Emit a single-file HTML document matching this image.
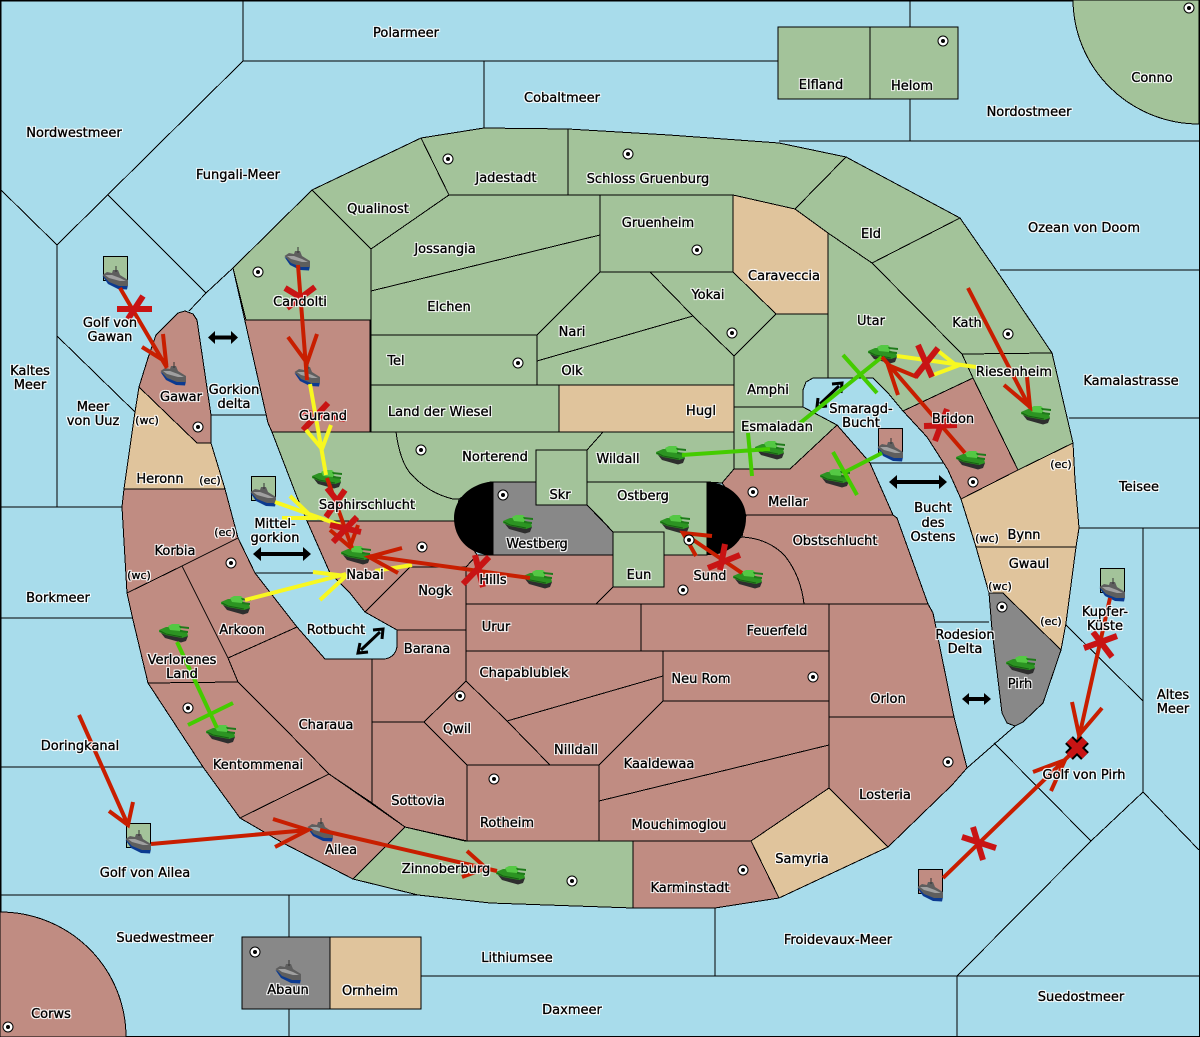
<!DOCTYPE html>
<html><head><meta charset="utf-8"><style>
html,body{margin:0;padding:0;background:#a8dceb}
svg{display:block}
.l polygon,.l path{stroke:#000;stroke-width:1;stroke-linejoin:miter}
.g{fill:#a3c39a}.b{fill:#c08c82}.t{fill:#e0c49c}.y{fill:#888}
.s{stroke:#000;stroke-width:1;fill:none}
text{font-family:"DejaVu Sans","Liberation Sans",sans-serif;font-size:13px;text-anchor:middle;fill:#000;stroke:#000;stroke-width:.35;font-weight:400}
.sm{font-size:11px}
.r{stroke:#c81e00;stroke-width:4;fill:none}
.x{stroke:#c81414;stroke-width:6;fill:none}
.yl{stroke:#f8f820;stroke-width:4;fill:none}
.gr{stroke:#44cc00;stroke-width:4;fill:none}
.k{stroke:#000;stroke-width:3;fill:none}
</style></head><body>
<svg xmlns="http://www.w3.org/2000/svg" width="1200" height="1037" viewBox="0 0 1200 1037">
<defs>
<filter id="halo" filterUnits="userSpaceOnUse" x="0" y="0" width="1200" height="1037" color-interpolation-filters="sRGB">
<feMorphology in="SourceAlpha" operator="dilate" radius="1" result="d"/>
<feFlood flood-color="#fff" flood-opacity=".92"/>
<feComposite in2="d" operator="in" result="w"/>
<feMerge><feMergeNode in="w"/><feMergeNode in="SourceGraphic"/></feMerge>
</filter>
<symbol id="tank" overflow="visible" viewBox="-15 -9 30 18" width="30" height="18">
<path d="M-13 0L-9 5L7 9.5L12 8L14 3Z" fill="#2e2e2e"/>
<path d="M-15 -3L-8 -6L0 -6L13 -1L14 3L8 5L-8 2L-15 -1Z" fill="#2c9422"/>
<path d="M-6 -7L-2 -9L5 -9L8 -6L6 -2L-4 -3Z" fill="#54c844"/>
<path d="M5 -7L15 -6L15 -4L6 -5Z" fill="#1e7a1a"/>
<path d="M6 -3L14 -2L14 0L6 -1Z" fill="#1e7a1a"/>
<path d="M-14 -2L-8 1L8 4" stroke="#176012" fill="none"/>
</symbol>
<symbol id="fleet" overflow="visible" viewBox="-12 -11 25 22" width="25" height="22">
<path d="M-12.500 -2L-7 6L3 11L12 11.500L13 7L0 4Z" fill="#0b3a90"/>
<path d="M-12.500 -3L-8 -6L-3 -5L-2 -8L3 -8L5 -3L13 2L13 8L4 8L-6 4Z" fill="#5e5e5e"/>
<path d="M-10 -3L-3 -3L5 0L11 3L5 3L-6 0Z" fill="#a0a0a0"/>
<path d="M1 -12L1 -6" stroke="#333" fill="none"/>
</symbol>
<g id="sc"><circle r="5" fill="#fff" stroke="#000" stroke-width="1"/><circle r="2" fill="#000"/></g>
</defs>
<rect x="0" y="0" width="1200" height="1037" fill="#a8dceb"/>
<g class="s" shape-rendering="crispEdges">
<rect x="0.5" y="0.5" width="1199" height="1036" stroke-width="1.5"/>
<path d="M243 0V61L57 245L0 189M57 245V507M108 195L206 293L189 311M206 293L233 268M57 336L135 412"/>
<path d="M0 507H122M0 618H133M0 767H203M0 895H418M289 895V937M289 1009V1037"/>
<path d="M243 61H778M484 61V129M910 0V27M910 99V141M779 141H1199M1000 270H1199"/>
<path d="M1069 418H1199M1079 528H1199M1143 528V792M1143 792L1199 850M1143 792L1091 841L957 976V1037M994 743L1091 841M1015 726L967 768M1066 625L1143 701"/>
<path d="M421 976H957H1199M715 908V976"/>
<path d="M211 415H266M255 573H330M870 463H945M935 622H989"/>
</g>
<g class="l" shape-rendering="crispEdges">
<!-- north -->
<polygon class="g" points="233,268 312,190 371,249 371,320 245,320"/>
<polygon class="g" points="312,190 421,138 449,195 371,249"/>
<polygon class="g" points="421,138 484,128 568,129 568,195 449,195"/>
<polygon class="g" points="568,129 669,135 779,143 846,157 795,209 733,195 568,195"/>
<polygon class="g" points="846,157 960,218 872,263 828,233 795,209"/>
<polygon class="t" points="733,195 795,209 828,233 828,314 776,314 733,272"/>
<polygon class="g" points="600,195 733,195 733,272 600,272"/>
<polygon class="g" points="371,249 449,195 600,195 600,235 371,291"/>
<polygon class="g" points="371,291 600,235 600,272 537,335 371,335"/>
<polygon class="g" points="600,272 650,272 693,316 537,361 537,335"/>
<polygon class="g" points="650,272 733,272 776,314 734,356 693,316"/>
<polygon class="g" points="537,361 693,316 734,356 734,385 537,385"/>
<polygon class="g" points="371,335 537,335 537,385 371,385"/>
<polygon class="g" points="371,385 559,385 559,432 371,432"/>
<polygon class="t" points="559,385 734,385 734,432 559,432"/>
<polygon class="g" points="776,314 828,314 828,378 813,378 806,382 803,390 803,407 734,407 734,356"/>
<polygon class="g" points="734,407 803,407 837,425 790,469 734,469"/>
<polygon class="g" points="828,233 872,263 917,308 962,354 973,378 903,411 888,393 873,378 828,378"/>
<polygon class="g" points="872,263 960,218 1003,280 1052,353 962,354"/>
<polygon class="g" points="962,354 1052,353 1073,443 1018,470 973,378"/>
<polygon class="b" points="903,411 973,378 1018,470 961,499 948,470 943,462 927,437"/>
<polygon class="t" points="1073,443 1075,480 1079,528 1076,547 976,547 961,499 1018,470"/>
<polygon class="t" points="976,547 1076,547 1066,623 1061,650 1003,593 989,593"/>
<polygon class="y" points="989,593 1003,593 1061,650 1043,703 1023,722 1015,726 1007,723 1002,713 992,630"/>
<!-- west -->
<polygon class="b" points="246,320 370,320 370,432 272,432 268,423 233,268"/>
<polygon class="b" points="139,387 148,358 156,335 178,313 185,311 193,314 197,320 211,415 211,443 197,443"/>
<polygon class="t" points="139,387 197,443 211,443 225,489 124,489 135,412"/>
<polygon class="b" points="124,489 225,489 238,538 182,566 127,593 122,507"/>
<polygon class="b" points="127,593 182,566 228,658 238,682 148,683 133,620"/>
<polygon class="b" points="182,566 238,538 255,573 297,627 228,658"/>
<polygon class="b" points="148,683 238,682 283,727 329,774 240,818 203,767"/>
<polygon class="b" points="228,658 297,627 325,659 372,659 372,803 329,774 283,727 238,682"/>
<polygon class="b" points="240,818 329,774 405,827 353,879 283,843"/>
<polygon class="g" points="405,827 465,841 633,841 633,908 490,903 418,895 353,879"/>
<!-- centre north -->
<path class="g" d="M272 432H396C398 447 402 463 410 473C418 482 432 494 453 499L459 499L455 521H307L297 497Z"/>
<path class="g" d="M396 432H603L587 450H536V482H490L459 499L453 499C432 494 418 482 410 473C402 463 398 447 396 432Z"/>
<polygon class="g" points="603,432 734,432 734,469 722,483 707,482 587,482 587,450"/>
<polygon class="y" points="493,482 536,482 536,505 587,505 613,532 613,555 493,555"/>
<polygon class="g" points="536,450 587,450 587,505 536,505"/>
<polygon class="g" points="587,482 707,482 707,555 664,555 664,532 613,532 600,518 587,505"/>
<polygon class="g" points="613,532 664,532 664,587 613,587"/>
<!-- centre south -->
<polygon class="b" points="307,521 455,521 477,555 466,567 410,567 365,612 350,593 330,573"/>
<polygon class="b" points="365,612 410,567 466,567 466,630 397,630"/>
<polygon class="b" points="466,567 477,555 613,555 613,587 596,604 466,604"/>
<path class="b" d="M596 604L613 587H664V555H707L742 537C760 538 775 545 785 556C796 570 802 586 804 604Z"/>
<polygon class="b" points="722,483 734,469 790,469 837,425 865,457 870,463 893,515 746,515"/>
<path class="b" d="M746 515H893L897 518L928 604H804C802 586 796 570 785 556C775 545 760 538 742 537Z"/>
<polygon class="b" points="466,604 641,604 641,651 466,651"/>
<polygon class="b" points="641,604 829,604 829,651 641,651"/>
<polygon class="b" points="663,651 829,651 829,701 663,701"/>
<polygon class="b" points="829,604 928,604 933,613 954,717 829,717"/>
<polygon class="b" points="829,717 954,717 967,768 952,785 888,847 829,788"/>
<polygon class="t" points="829,788 888,847 779,898 751,841"/>
<polygon class="b" points="599,801 829,745 829,788 751,841 599,841"/>
<polygon class="b" points="663,701 829,701 829,745 599,801 599,765"/>
<polygon class="b" points="507,721 663,676 663,701 599,765 550,765"/>
<polygon class="b" points="466,651 663,651 663,676 507,721 466,681"/>
<polygon class="b" points="466,681 507,721 550,765 467,765 424,722"/>
<polygon class="b" points="467,765 599,765 599,841 467,841"/>
<polygon class="b" points="372,722 424,722 467,765 467,841 405,827 372,803"/>
<path class="b" d="M372 659H383C392 659 397 652 397 645V630H466V681L424 722H372Z"/>
<polygon class="b" points="633,841 751,841 779,898 715,908 643,908 633,908"/>
<!-- islands -->
<path class="g" d="M1073 0A126 125 0 0 0 1199 124V0Z"/>
<path class="b" d="M0 912A126 125 0 0 1 126 1037H0Z"/>
<polygon class="g" points="778,27 870,27 870,99 778,99"/>
<polygon class="g" points="870,27 958,27 958,99 870,99"/>
<polygon class="y" points="242,937 330,937 330,1009 242,1009"/>
<polygon class="t" points="330,937 421,937 421,1009 330,1009"/>
</g>
<!-- caps -->
<path d="M493 482H488C468 486 454 500 454 518C454 538 468 553 488 555H493Z" fill="#000"/>
<path d="M707 482H712C732 486 746 500 746 518C746 538 732 553 712 555H707Z" fill="#000"/>
<!-- dislodged squares -->
<g stroke="#000" stroke-width="1" shape-rendering="crispEdges">
<rect x="103.5" y="256.5" width="24" height="24" fill="#a3c39a"/>
<rect x="251.5" y="476.5" width="24" height="24" fill="#a3c39a"/>
<rect x="126.5" y="823.5" width="24" height="24" fill="#a3c39a"/>
<rect x="878.5" y="428.5" width="24" height="24" fill="#c08c82"/>
<rect x="1100.5" y="568.5" width="24" height="24" fill="#a3c39a"/>
<rect x="918.5" y="869.5" width="24" height="24" fill="#c08c82"/>
</g>
<!-- black double arrows -->
<g>
<path d="M212 337.500H234" stroke="#000" stroke-width="4"/><path d="M208 337.500L215 331V344ZM238 337.500L231 331V344Z" fill="#000"/>
<path d="M258 554H306" stroke="#000" stroke-width="4"/><path d="M253 554L261 547V561ZM311 554L303 547V561Z" fill="#000"/>
<path d="M892 482H944" stroke="#000" stroke-width="4"/><path d="M889 482L897 475V489ZM947 482L939 475V489Z" fill="#000"/>
<path d="M966 699H987" stroke="#000" stroke-width="4"/><path d="M962 699L969 693V705ZM991 699L984 693V705Z" fill="#000"/>
<path class="k" d="M361 650L380 632M360 643L358 653L368 652M373 630L383 629L382 639"/>
<path class="k" d="M820 404L839 386M818 398L817 407L827 406M832 384L842 383L841 393"/>
</g>
<!-- units -->
<g>
<use href="#tank" x="503" y="515"/><use href="#tank" x="660" y="515"/><use href="#tank" x="656" y="446"/>
<use href="#tank" x="755" y="441"/><use href="#tank" x="523" y="570"/><use href="#tank" x="733" y="570"/>
<use href="#tank" x="341" y="546"/><use href="#tank" x="312" y="470"/><use href="#tank" x="221" y="596"/>
<use href="#tank" x="159" y="624"/><use href="#tank" x="206" y="725"/><use href="#tank" x="496" y="866"/>
<use href="#tank" x="868" y="345"/><use href="#tank" x="1021" y="406"/><use href="#tank" x="956" y="451"/>
<use href="#tank" x="820" y="469"/><use href="#tank" x="1006" y="656"/>
<use href="#fleet" x="285" y="248"/><use href="#fleet" x="295" y="364"/><use href="#fleet" x="161" y="363"/>
<use href="#fleet" x="103" y="267"/><use href="#fleet" x="251" y="484"/><use href="#fleet" x="308" y="819"/>
<use href="#fleet" x="126" y="831"/><use href="#fleet" x="276" y="961"/><use href="#fleet" x="878" y="439"/>
<use href="#fleet" x="1100" y="579"/><use href="#fleet" x="918" y="879"/>
</g>
<!-- green orders -->
<g class="gr">
<path d="M682 455L770 449M748 433L752 476"/>
<path d="M800 423L882 357M843 355L877 393"/>
<path d="M882 453L843 473M833 452L857 495"/>
<path d="M177 642L217 728M188 725L233 703"/>
</g>
<!-- red orders under yellow -->
<g class="x">
<path d="M303 430L328 403M300 412L345 419"/>
</g>
<!-- yellow orders -->
<g class="yl">
<path d="M310 384L326 475M306 430L322 449L331 425"/>
<path d="M275 502L340 525M290 496L313 518L282 518"/>
<path d="M245 600L346 574M313 572L346 576L320 600"/>
<path d="M375 571L412 565"/>
<path d="M897 356L976 367M937 350L957 366L933 375"/>
</g>
<!-- red orders -->
<g class="r">
<path d="M120 288L167 368M163 334L166 362L142 347"/>
<path d="M298 265L307 380M288 337L307 363L317 334"/>
<path d="M327 478L352 548M330 530L350 547L358 525"/>
<path d="M530 578L370 556M402 548L369 557L398 573"/>
<path d="M742 573L683 533M712 536L683 533L696 556"/>
<path d="M965 453L882 357M898 395L888 365L917 377"/>
<path d="M968 288L1030 408M1004 385L1030 407L1027 377"/>
<path d="M1110 598L1078 742M1072 702L1079 735L1102 708"/>
<path d="M943 878L1077 748M1033 772L1065 760L1051 791"/>
<path d="M79 715L128 825M109 811L128 825L133 802"/>
<path d="M151 844L308 830M273 819L308 830L275 847"/>
<path d="M320 830L497 871M467 851L486 868L462 877"/>
</g>
<!-- X marks -->
<g class="x">
<path d="M117 309H152M143 296L128 319"/>
<path d="M285 288L300 297M315 287L287 308"/>
<path d="M330 525L361 532M357 517L333 542"/>
<path d="M345 490L326 517M327 488L343 508"/>
<path d="M475 555L483 587M489 557L463 584"/>
<path d="M708 568L740 555M725 544L720 570"/>
<path d="M918 345L932 377M938 348L915 377"/>
<path d="M924 426L957 425M947 409L935 441"/>
<path d="M1084 648L1117 636M1093 632L1112 657"/>
<path d="M962 837L996 848M973 827L983 860"/>
</g>
<path d="M1069 740L1085 756M1085 740L1069 756" stroke="#000" stroke-width="11" fill="none"/>
<path d="M1069 740L1085 756M1085 740L1069 756" stroke="#c81414" stroke-width="7" fill="none"/>
<!-- supply centres -->
<use href="#sc" x="448" y="159"/><use href="#sc" x="628" y="154"/><use href="#sc" x="697" y="250"/>
<use href="#sc" x="732" y="333"/><use href="#sc" x="518" y="363"/><use href="#sc" x="421" y="450"/>
<use href="#sc" x="503" y="495"/><use href="#sc" x="753" y="492"/><use href="#sc" x="422" y="547"/>
<use href="#sc" x="683" y="590"/><use href="#sc" x="689" y="540"/><use href="#sc" x="258" y="272"/>
<use href="#sc" x="198" y="427"/><use href="#sc" x="231" y="563"/><use href="#sc" x="188" y="708"/>
<use href="#sc" x="460" y="696"/><use href="#sc" x="494" y="779"/><use href="#sc" x="813" y="677"/>
<use href="#sc" x="948" y="762"/><use href="#sc" x="743" y="870"/><use href="#sc" x="572" y="881"/>
<use href="#sc" x="1008" y="334"/><use href="#sc" x="973" y="482"/><use href="#sc" x="1002" y="607"/>
<use href="#sc" x="943" y="41"/><use href="#sc" x="1189" y="8"/><use href="#sc" x="255" y="952"/><use href="#sc" x="8" y="1027"/>
<!-- labels -->
<g filter="url(#halo)">
<text x="406" y="37">Polarmeer</text><text x="562" y="102">Cobaltmeer</text><text x="821" y="89">Elfland</text>
<text x="912" y="90">Helom</text><text x="1152" y="82">Conno</text><text x="1029" y="116">Nordostmeer</text>
<text x="74" y="137">Nordwestmeer</text><text x="238" y="179">Fungali-Meer</text><text x="506" y="182">Jadestadt</text>
<text x="378" y="213">Qualinost</text><text x="648" y="183">Schloss Gruenburg</text><text x="658" y="227">Gruenheim</text>
<text x="871" y="238">Eld</text><text x="1084" y="232">Ozean von Doom</text><text x="445" y="253">Jossangia</text>
<text x="784" y="280">Caraveccia</text><text x="708" y="299">Yokai</text><text x="300" y="306">Candolti</text>
<text x="449" y="311">Elchen</text><text x="967" y="327">Kath</text><text x="871" y="325">Utar</text>
<text x="572" y="336">Nari</text><text x="396" y="365">Tel</text><text x="572" y="375">Olk</text>
<text x="1014" y="376">Riesenheim</text><text x="30" y="375">Kaltes</text><text x="30" y="389">Meer</text>
<text x="1131" y="385">Kamalastrasse</text><text x="768" y="394">Amphi</text><text x="181" y="401">Gawar</text>
<text x="234" y="394">Gorkion</text><text x="234" y="408">delta</text><text x="93" y="411">Meer</text><text x="93" y="425">von Uuz</text>
<text x="110" y="327">Golf von</text><text x="110" y="341">Gawan</text><text x="861" y="413">Smaragd-</text><text x="861" y="427">Bucht</text>
<text x="440" y="416">Land der Wiesel</text><text x="701" y="415">Hugl</text><text x="323" y="420">Gurand</text>
<text x="953" y="423">Bridon</text><text x="777" y="431">Esmaladan</text><text class="sm" x="147" y="424">(wc)</text>
<text x="495" y="461">Norterend</text><text x="618" y="463">Wildall</text><text class="sm" x="1061" y="468">(ec)</text>
<text x="160" y="483">Heronn</text><text class="sm" x="210" y="484">(ec)</text><text x="1139" y="491">Teisee</text>
<text x="933" y="512">Bucht</text><text x="933" y="527">des</text><text x="933" y="541">Ostens</text>
<text x="560" y="499">Skr</text><text x="643" y="500">Ostberg</text><text x="788" y="506">Mellar</text>
<text x="367" y="509">Saphirschlucht</text><text x="275" y="528">Mittel-</text><text x="275" y="542">gorkion</text>
<text class="sm" x="225" y="536">(ec)</text><text x="1029" y="568">Gwaul</text><text x="1024" y="539">Bynn</text>
<text class="sm" x="987" y="542">(wc)</text><text x="537" y="548">Westberg</text><text x="835" y="545">Obstschlucht</text>
<text x="175" y="555">Korbia</text><text x="365" y="579">Nabai</text><text x="639" y="579">Eun</text>
<text x="710" y="580">Sund</text><text class="sm" x="139" y="579">(wc)</text><text x="493" y="584">Hills</text>
<text x="435" y="595">Nogk</text><text class="sm" x="1000" y="590">(wc)</text><text x="58" y="602">Borkmeer</text>
<text x="1105" y="616">Kupfer-</text><text x="1105" y="630">Küste</text><text x="496" y="631">Urur</text>
<text x="777" y="635">Feuerfeld</text><text x="242" y="634">Arkoon</text><text x="336" y="634">Rotbucht</text>
<text class="sm" x="1051" y="625">(ec)</text><text x="965" y="639">Rodesion</text><text x="965" y="653">Delta</text>
<text x="427" y="653">Barana</text><text x="182" y="664">Verlorenes</text><text x="182" y="678">Land</text>
<text x="524" y="677">Chapablublek</text><text x="701" y="683">Neu Rom</text><text x="1020" y="688">Pirh</text>
<text x="1173" y="699">Altes</text><text x="1173" y="713">Meer</text><text x="888" y="703">Orlon</text>
<text x="326" y="729">Charaua</text><text x="457" y="733">Qwil</text><text x="80" y="750">Doringkanal</text>
<text x="576" y="754">Nilldall</text><text x="659" y="768">Kaaldewaa</text><text x="258" y="769">Kentommenai</text>
<text x="1084" y="779">Golf von Pirh</text><text x="885" y="799">Losteria</text><text x="418" y="805">Sottovia</text>
<text x="507" y="827">Rotheim</text><text x="679" y="829">Mouchimoglou</text><text x="341" y="854">Ailea</text>
<text x="802" y="863">Samyria</text><text x="446" y="873">Zinnoberburg</text><text x="145" y="877">Golf von Ailea</text>
<text x="690" y="892">Karminstadt</text><text x="165" y="942">Suedwestmeer</text><text x="838" y="944">Froidevaux-Meer</text>
<text x="517" y="962">Lithiumsee</text><text x="288" y="994">Abaun</text><text x="370" y="995">Ornheim</text>
<text x="1081" y="1001">Suedostmeer</text><text x="572" y="1014">Daxmeer</text><text x="51" y="1018">Corws</text>
</g>
</svg>
</body></html>
